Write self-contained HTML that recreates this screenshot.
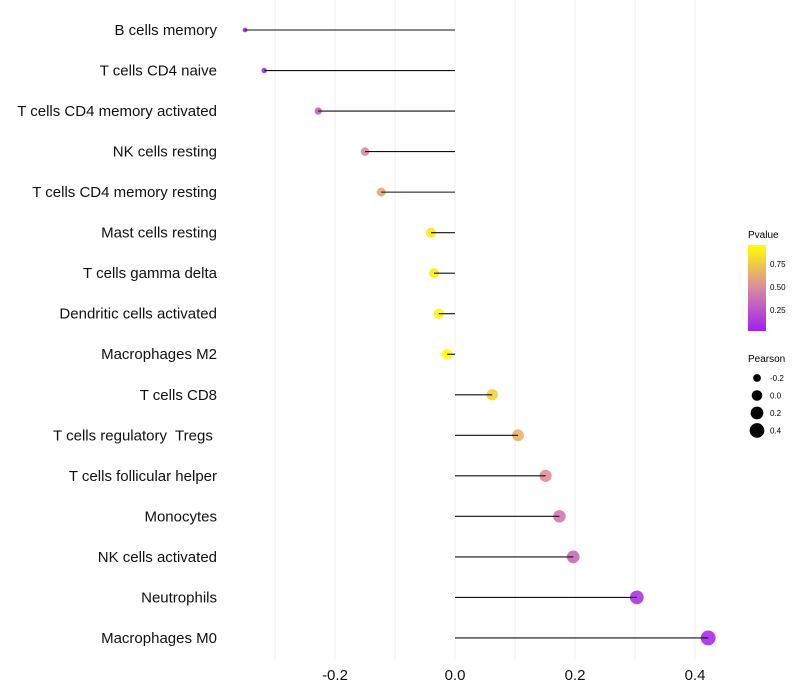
<!DOCTYPE html>
<html><head><meta charset="utf-8"><style>
body{margin:0;background:#fff;}
svg{display:block;font-family:"Liberation Sans",sans-serif;}
</style></head><body>
<svg id="chart" width="800" height="700">
<defs><linearGradient id="pg" x1="0" y1="1" x2="0" y2="0">
<stop offset="0" stop-color="#a020f0"/><stop offset="0.5" stop-color="#d98aa0"/><stop offset="1" stop-color="#ffff00"/>
</linearGradient></defs>
<g id="grid"></g>
<g id="marks"></g>
<g id="ylabels"></g>
<g id="xlabels"></g>
<g>
<text x="748" y="238" font-size="10">Pvalue</text>
<rect x="748" y="245" width="18" height="86" fill="url(#pg)"/>
<text x="770" y="267" font-size="8">0.75</text>
<text x="770" y="290" font-size="8">0.50</text>
<text x="770" y="313" font-size="8">0.25</text>
<text x="748" y="362" font-size="10">Pearson</text>
<g id="sizeleg"></g>
</g>
</svg>
<script>
const categories=["B cells memory","T cells CD4 naive","T cells CD4 memory activated","NK cells resting","T cells CD4 memory resting","Mast cells resting","T cells gamma delta","Dendritic cells activated","Macrophages M2","T cells CD8","T cells regulatory  Tregs ","T cells follicular helper","Monocytes","NK cells activated","Neutrophils","Macrophages M0"];
const pearson=[-0.35,-0.318,-0.228,-0.15,-0.123,-0.04,-0.035,-0.027,-0.013,0.062,0.105,0.151,0.174,0.197,0.303,0.422];
const pvalue=[0.02,0.05,0.3,0.5,0.62,0.9,0.93,0.96,1.0,0.82,0.68,0.52,0.42,0.35,0.1,0.05];
const xTicks=[-0.2,0.0,0.2,0.4];
const sizeLegend=[-0.2,0.0,0.2,0.4];
const NS="http://www.w3.org/2000/svg";
const xs=v=>455+v*600;
const ys=i=>30+i*40.53;
const rs=v=>Math.sqrt(Math.max(2,28+64*v));
function col(p){const a=[160,32,240],m=[217,138,160],b=[255,255,0];let c0,c1,t;if(p<0.5){c0=a;c1=m;t=p/0.5;}else{c0=m;c1=b;t=(p-0.5)/0.5;}return "rgb("+c0.map((x,k)=>Math.round(x+(c1[k]-x)*t)).join(",")+")";}
function mk(tag,at,parent){const e=document.createElementNS(NS,tag);for(const k in at)e.setAttribute(k,at[k]);parent.appendChild(e);return e;}
const grid=document.getElementById('grid'),marks=document.getElementById('marks'),yl=document.getElementById('ylabels'),xl=document.getElementById('xlabels');
for(let g=-0.3;g<=0.41;g+=0.1){const l=mk('line',{x1:xs(g),x2:xs(g),y1:0,y2:660,stroke:'#f0f0f0','stroke-width':1},grid);

}
categories.forEach((c,i)=>{
const y=ys(i);
const pt=mk('circle',{cx:xs(pearson[i]),cy:y,r:rs(pearson[i]),fill:col(pvalue[i]),'fill-opacity':0.9},marks);


const ln=mk('line',{x1:xs(0),x2:xs(pearson[i]),y1:y,y2:y,stroke:'#111','stroke-width':1.1},marks);


const t=mk('text',{x:217,y:y+5,'text-anchor':'end','font-size':15,fill:'#111','xml:space':'preserve'},yl);t.textContent=c;
t.style.whiteSpace='pre';


});
xTicks.forEach(v=>{const t=mk('text',{x:xs(v),y:680,'text-anchor':'middle','font-size':15,fill:'#111'},xl);t.textContent=v.toFixed(1);

});
const sl=document.getElementById('sizeleg');
sizeLegend.forEach((v,k)=>{const y=378+k*17.5;
const c=mk('circle',{cx:757,cy:y,r:rs(v),fill:'#000'},sl);


const t=mk('text',{x:770,y:y+3,'font-size':8},sl);t.textContent=v.toFixed(1);

});
</script>
</body></html>
